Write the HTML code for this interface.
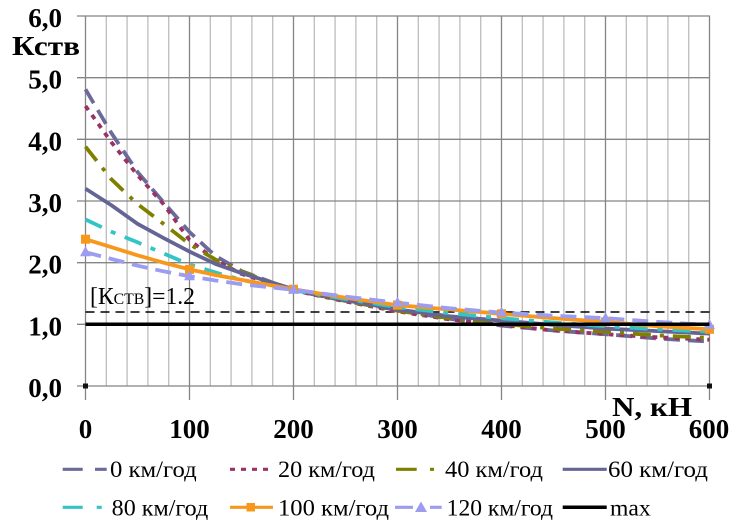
<!DOCTYPE html>
<html><head><meta charset="utf-8"><style>
html,body{margin:0;padding:0;background:#fff;}
svg{display:block;}
text{font-family:"Liberation Serif","DejaVu Serif",serif;}
.ax{font-weight:bold;font-size:27px;fill:#000;}
.lg{font-size:23px;fill:#000;}
</style></head><body>
<svg width="741" height="520" viewBox="0 0 741 520" xmlns="http://www.w3.org/2000/svg" font-family="'Liberation Serif', 'DejaVu Serif', serif">
<rect width="741" height="520" fill="#fff"/>
<!-- minor vertical grid -->
<g stroke="#bdbdbd" stroke-width="1.3">
<line x1="106.3" y1="16" x2="106.3" y2="386"/><line x1="127.1" y1="16" x2="127.1" y2="386"/><line x1="147.9" y1="16" x2="147.9" y2="386"/><line x1="168.7" y1="16" x2="168.7" y2="386"/>
<line x1="210.3" y1="16" x2="210.3" y2="386"/><line x1="231.1" y1="16" x2="231.1" y2="386"/><line x1="251.9" y1="16" x2="251.9" y2="386"/><line x1="272.7" y1="16" x2="272.7" y2="386"/>
<line x1="314.3" y1="16" x2="314.3" y2="386"/><line x1="335.1" y1="16" x2="335.1" y2="386"/><line x1="355.9" y1="16" x2="355.9" y2="386"/><line x1="376.7" y1="16" x2="376.7" y2="386"/>
<line x1="418.3" y1="16" x2="418.3" y2="386"/><line x1="439.1" y1="16" x2="439.1" y2="386"/><line x1="459.9" y1="16" x2="459.9" y2="386"/><line x1="480.7" y1="16" x2="480.7" y2="386"/>
<line x1="522.3" y1="16" x2="522.3" y2="386"/><line x1="543.1" y1="16" x2="543.1" y2="386"/><line x1="563.9" y1="16" x2="563.9" y2="386"/><line x1="584.7" y1="16" x2="584.7" y2="386"/>
<line x1="626.3" y1="16" x2="626.3" y2="386"/><line x1="647.1" y1="16" x2="647.1" y2="386"/><line x1="667.9" y1="16" x2="667.9" y2="386"/><line x1="688.7" y1="16" x2="688.7" y2="386"/>
</g>
<!-- major vertical grid -->
<g stroke="#858585" stroke-width="1.3">
<line x1="85.5" y1="16" x2="85.5" y2="400"/><line x1="189.5" y1="16" x2="189.5" y2="400"/><line x1="293.5" y1="16" x2="293.5" y2="400"/><line x1="397.5" y1="16" x2="397.5" y2="400"/><line x1="501.5" y1="16" x2="501.5" y2="400"/><line x1="605.5" y1="16" x2="605.5" y2="400"/><line x1="709.5" y1="16" x2="709.5" y2="400"/>
</g>
<!-- horizontal grid -->
<g stroke="#858585" stroke-width="1.3">
<line x1="77" y1="16" x2="710" y2="16"/><line x1="77" y1="77.7" x2="710" y2="77.7"/><line x1="77" y1="139.3" x2="710" y2="139.3"/><line x1="77" y1="201" x2="710" y2="201"/><line x1="77" y1="262.7" x2="710" y2="262.7"/><line x1="77" y1="324.3" x2="710" y2="324.3"/><line x1="77" y1="386" x2="710" y2="386"/>
</g>
<rect x="83" y="383.5" width="5" height="5" fill="#111"/>
<rect x="707" y="383.5" width="5" height="5" fill="#111"/>

<!-- threshold dashed line -->
<line x1="85.5" y1="312" x2="709.5" y2="312" stroke="#000" stroke-width="1.5" stroke-dasharray="9,6"/>

<g fill="none" stroke-width="3.8" stroke-linejoin="round">
<!-- 0 km -->
<polyline stroke="#6b6a98" stroke-dasharray="16,8" points="85.5,89.4 111.5,133.2 137.5,172 163.5,202.2 189.5,232 215.5,256 241.5,271 293.5,290.4 345.5,300.9 397.5,310.1 449.5,318.8 501.5,325.6 553.5,330.5 605.5,334.2 657.5,338.5 709.5,341.6"/>
<!-- 20 km -->
<polyline stroke="#993366" stroke-dasharray="5,6" points="85.5,106 111.5,142.4 137.5,175.1 163.5,204.1 189.5,240 215.5,260 241.5,274 293.5,290.4 345.5,301.5 397.5,311.4 449.5,319.4 501.5,324.9 553.5,330.5 605.5,334.2 657.5,337.3 709.5,339.7"/>
<!-- 40 km -->
<polyline stroke="#808000" stroke-dasharray="18,9,4,9" points="85.5,146.7 111.5,179.4 137.5,204.1 163.5,223.8 189.5,244.2 215.5,259.6 241.5,271.9 293.5,289.8 345.5,300.9 397.5,310.8 449.5,318.2 501.5,323.7 553.5,328.6 605.5,331.7 657.5,335.4 709.5,337.9"/>
<!-- 60 km -->
<polyline stroke="#646496" points="85.5,188.7 111.5,205.3 137.5,223.8 163.5,238 189.5,251.6 215.5,263.9 241.5,273.1 293.5,289.2 345.5,300.3 397.5,309.5 449.5,316.3 501.5,320.6 553.5,324.9 605.5,328.6 657.5,331.1 709.5,333.6"/>
<!-- 80 km -->
<polyline stroke="#33c5c5" stroke-dasharray="18,10,5,10" points="85.5,219.5 111.5,231.8 137.5,242.3 163.5,253.4 189.5,264.5 215.5,272.5 241.5,279.9 293.5,290.4 345.5,299 397.5,307.1 449.5,313.2 501.5,318.2 553.5,322.5 605.5,326.2 657.5,329.3 709.5,331.7"/>
<!-- 100 km -->
<polyline stroke="#f7981d" points="85.5,239.2 111.5,247.2 137.5,255.3 163.5,262.7 189.5,269.4 215.5,275 241.5,279.9 293.5,289.2 345.5,297.8 397.5,305.2 449.5,309.5 501.5,313.8 553.5,318.2 605.5,321.9 657.5,326.2 709.5,329.3"/>
<!-- 120 km -->
<polyline stroke="#9c9cf0" stroke-dasharray="16,8" points="85.5,252.2 111.5,259 137.5,265.7 163.5,271.3 189.5,276.2 215.5,280.5 241.5,284.2 293.5,289.8 345.5,296.6 397.5,302.7 449.5,308.3 501.5,312.6 553.5,315.7 605.5,318.2 657.5,321.9 709.5,324.9"/>
</g>
<!-- markers 100 -->
<g fill="#f7981d">
<rect x="81" y="234.7" width="9" height="9"/><rect x="185" y="264.9" width="9" height="9"/><rect x="289" y="284.7" width="9" height="9"/><rect x="393" y="300.7" width="9" height="9"/><rect x="497" y="309.3" width="9" height="9"/><rect x="601" y="317.4" width="9" height="9"/><rect x="705" y="324.8" width="9" height="9"/>
</g>
<!-- markers 120 -->
<g fill="#9c9cf0">
<polygon points="85.5,246.2 91,256.2 80,256.2"/><polygon points="189.5,270.2 195,280.2 184,280.2"/><polygon points="293.5,283.8 299,293.8 288,293.8"/><polygon points="397.5,296.7 403,306.7 392,306.7"/><polygon points="501.5,306.6 507,316.6 496,316.6"/><polygon points="605.5,312.2 611,322.2 600,322.2"/><polygon points="709.5,318.9 715,328.9 704,328.9"/>
</g>
<!-- max -->
<line x1="85.5" y1="324.3" x2="709.5" y2="324.3" stroke="#000" stroke-width="3.5"/>

<!-- y labels -->
<g class="ax" text-anchor="end" font-family="'Liberation Serif', serif">
<text x="62" y="27">6,0</text>
<text x="62" y="88.7">5,0</text>
<text x="62" y="150.3">4,0</text>
<text x="62" y="212">3,0</text>
<text x="62" y="273.7">2,0</text>
<text x="62" y="335.3">1,0</text>
<text x="62" y="397">0,0</text>
</g>
<text class="ax" x="12" y="55" textLength="68" lengthAdjust="spacingAndGlyphs" font-family="'Liberation Serif', serif">Кств</text>
<!-- x labels -->
<g class="ax" text-anchor="middle" font-family="'Liberation Serif', serif">
<text x="85.5" y="438">0</text>
<text x="189.5" y="438">100</text>
<text x="293.5" y="438">200</text>
<text x="397.5" y="438">300</text>
<text x="501.5" y="438">400</text>
<text x="605.5" y="438">500</text>
<text x="709" y="438">600</text>
</g>
<text class="ax" x="612" y="416" textLength="80" lengthAdjust="spacingAndGlyphs" font-family="'Liberation Serif', serif">N, кН</text>
<text x="90" y="304" font-size="24" textLength="105" lengthAdjust="spacingAndGlyphs" font-family="'Liberation Serif', serif">[К<tspan font-size="16">СТВ</tspan>]=1.2</text>

<!-- legend -->
<g stroke-width="3.2" fill="none">
<line x1="62.7" y1="469.3" x2="106.7" y2="469.3" stroke="#6b6a98" stroke-dasharray="20,12.3,12"/>
<line x1="230" y1="469.3" x2="270" y2="469.3" stroke="#993366" stroke-dasharray="5,6"/>
<line x1="396" y1="469.3" x2="434" y2="469.3" stroke="#808000" stroke-dasharray="20.7,13.3,4"/>
<line x1="562.7" y1="469.3" x2="606.7" y2="469.3" stroke="#646496"/>
<line x1="62.7" y1="507.3" x2="101.7" y2="507.3" stroke="#33c5c5" stroke-dasharray="20,14,5"/>
<line x1="230" y1="507.3" x2="273" y2="507.3" stroke="#f7981d"/>
<line x1="395" y1="507.3" x2="441.7" y2="507.3" stroke="#9c9cf0" stroke-dasharray="18,17,12"/>
<line x1="562.7" y1="507.3" x2="606.7" y2="507.3" stroke="#000" stroke-width="3.5"/>
</g>
<rect x="246.5" y="503" width="8.5" height="8.5" fill="#f7981d"/>
<polygon points="421,501.5 427,512 415,512" fill="#9c9cf0"/>
<g class="lg" font-family="'Liberation Serif', serif" font-size="23">
<text x="110" y="477" textLength="86.7" lengthAdjust="spacingAndGlyphs">0 км/год</text>
<text x="278" y="477" textLength="97" lengthAdjust="spacingAndGlyphs">20 км/год</text>
<text x="445" y="477" textLength="98" lengthAdjust="spacingAndGlyphs">40 км/год</text>
<text x="608" y="477" textLength="100" lengthAdjust="spacingAndGlyphs">60 км/год</text>
<text x="111.7" y="515.5" textLength="96.6" lengthAdjust="spacingAndGlyphs">80 км/год</text>
<text x="278" y="515.5" textLength="111" lengthAdjust="spacingAndGlyphs">100 км/год</text>
<text x="446.7" y="515.5" textLength="106.3" lengthAdjust="spacingAndGlyphs">120 км/год</text>
<text x="610" y="515.5" textLength="40.7" lengthAdjust="spacingAndGlyphs">max</text>
</g>
</svg>
</body></html>
